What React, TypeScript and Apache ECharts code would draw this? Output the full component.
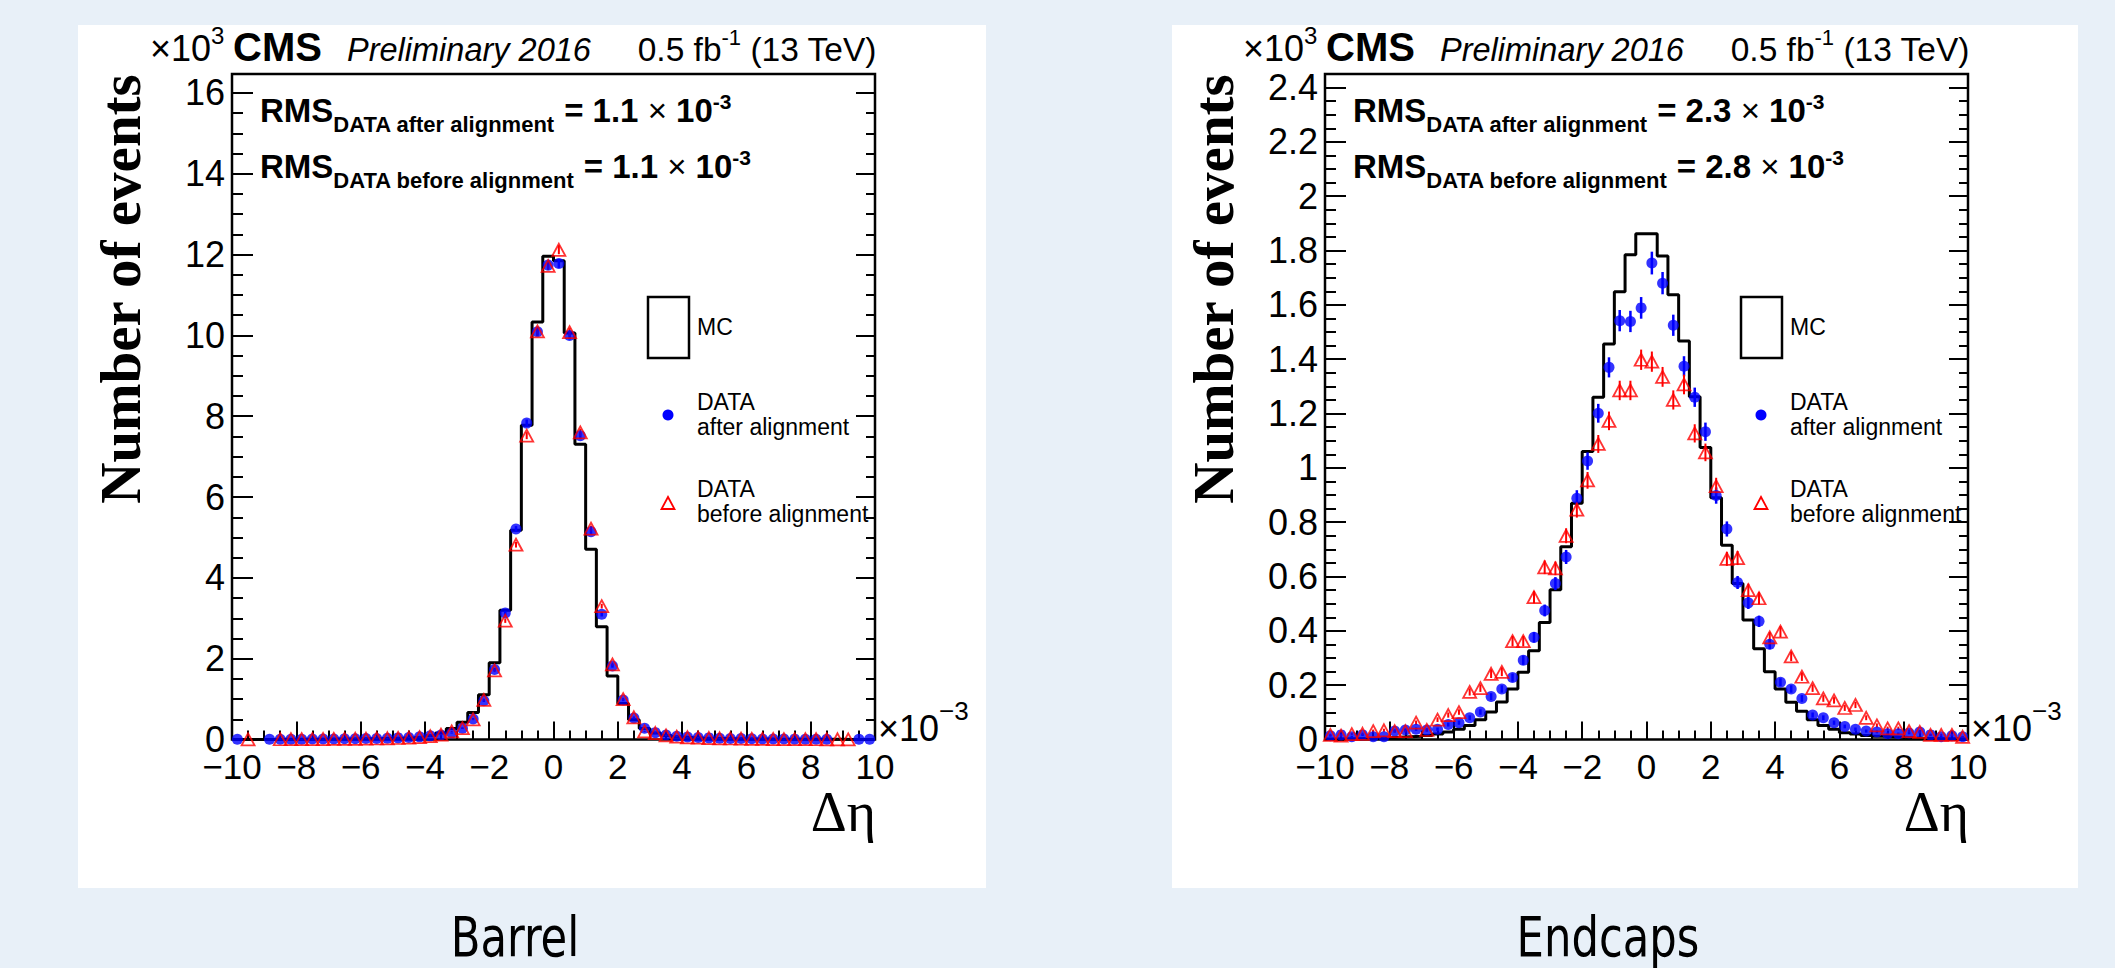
import React, { useEffect, useRef } from 'react';
import * as echarts from 'echarts';

// ---------------- data (values in units of 10^3 events, Δη in units of 10^-3) ----------------
const BIN_LOW = -10;
const BIN_WIDTH = 1 / 3; // 60 bins from -10 to 10
const EVENTS_SCALE = 1000; // y axis is ×10^3

const barrelMC = [
  0, 0, 0, 0, 0.004, 0.005, 0.006, 0.008, 0.01, 0.012,
  0.014, 0.017, 0.02, 0.024, 0.03, 0.036, 0.045, 0.06, 0.09, 0.16,
  0.27, 0.43, 0.67, 1.11, 1.9, 3.2, 5.18, 7.78, 10.33, 11.96,
  11.85, 10.06, 7.31, 4.71, 2.79, 1.57, 0.89, 0.49, 0.27, 0.16,
  0.1, 0.065, 0.048, 0.038, 0.03, 0.025, 0.02, 0.017, 0.014, 0.012,
  0.01, 0.009, 0.008, 0.007, 0.006, 0.005, 0.004, 0.003, 0.002, 0.002,
];
const barrelAfter = [
  0.005, null, null, 0.005, 0.006, 0.007, 0.008, 0.01, 0.012, 0.014,
  0.016, 0.02, 0.022, 0.026, 0.032, 0.04, 0.05, 0.065, 0.09, 0.11,
  0.16, 0.28, 0.51, 0.96, 1.73, 3.13, 5.21, 7.83, 10.09, 11.74,
  11.78, 10.0, 7.52, 5.14, 3.1, 1.82, 0.98, 0.53, 0.28, 0.17,
  0.11, 0.08, 0.06, 0.05, 0.04, 0.032, 0.026, 0.022, 0.018, 0.015,
  0.012, 0.01, 0.009, 0.008, 0.007, 0.006, null, null, 0.004, 0.004,
];
const barrelBefore = [
  null, 0.005, null, null, 0.006, 0.007, 0.008, 0.009, 0.011, 0.013,
  0.015, 0.018, 0.021, 0.025, 0.03, 0.037, 0.047, 0.06, 0.085, 0.12,
  0.2, 0.28, 0.5, 0.98, 1.71, 2.94, 4.82, 7.52, 10.1, 11.72,
  12.12, 10.08, 7.6, 5.22, 3.3, 1.86, 1.0, 0.55, 0.2, 0.16,
  0.1, 0.07, 0.055, 0.045, 0.036, 0.03, 0.025, 0.02, 0.017, 0.014,
  0.012, 0.01, 0.008, 0.007, 0.006, 0.005, 0.005, 0.004, null, null,
];

const endcapMC = [
  0.002, 0.003, 0.003, 0.004, 0.005, 0.006, 0.008, 0.01, 0.012, 0.015,
  0.02, 0.028, 0.038, 0.052, 0.073, 0.101, 0.138, 0.186, 0.248, 0.327,
  0.431, 0.551, 0.71, 0.87, 1.06, 1.26, 1.456, 1.648, 1.785, 1.862,
  1.862, 1.78, 1.637, 1.467, 1.262, 1.075, 0.89, 0.715, 0.574, 0.44,
  0.334, 0.249, 0.186, 0.137, 0.104, 0.073, 0.052, 0.038, 0.025, 0.02,
  0.015, 0.012, 0.01, 0.008, 0.006, 0.005, 0.004, 0.003, 0.003, 0.002,
];
const endcapAfter = [
  0.014, 0.017, 0.01, 0.017, 0.01, 0.01, 0.031, 0.035, 0.038, 0.035,
  0.038, 0.055, 0.062, 0.08, 0.101, 0.158, 0.186, 0.228, 0.292, 0.376,
  0.475, 0.574, 0.672, 0.888, 1.025, 1.201, 1.37, 1.542, 1.539, 1.589,
  1.754, 1.68, 1.525, 1.374, 1.26, 1.133, 0.898, 0.775, 0.578, 0.503,
  0.435, 0.351, 0.211, 0.186, 0.151, 0.09, 0.08, 0.062, 0.048, 0.038,
  0.031, 0.028, 0.021, 0.021, 0.024, 0.028, 0.017, 0.01, 0.014, 0.01,
];
const endcapBefore = [
  0.017, 0.014, 0.02, 0.021, 0.031, 0.034, 0.031, 0.031, 0.062, 0.035,
  0.073, 0.09, 0.101, 0.175, 0.189, 0.242, 0.249, 0.362, 0.362, 0.524,
  0.634, 0.63, 0.75, 0.846, 0.954, 1.088, 1.173, 1.285, 1.285, 1.398,
  1.391, 1.335, 1.25, 1.307, 1.127, 1.057, 0.933, 0.665, 0.668, 0.55,
  0.52, 0.376, 0.397, 0.306, 0.231, 0.189, 0.151, 0.144, 0.116, 0.127,
  0.08, 0.052, 0.041, 0.041, 0.031, 0.028, 0.017, 0.017, 0.017, 0.01,
];

const panelNames = ['Barrel', 'Endcaps'];
const rmsAfterValues = ['1.1', '2.3'];
const rmsBeforeValues = ['1.1', '2.8'];
const yMaxValues = [16.47, 2.45];
const yMajorSteps = [2, 0.2];
const yMinorSteps = [0.5, 0.05];
const xRange = [-10, 10];
const xMajorStep = 2;
const xMinorStep = 0.5;

// ---------------- styling helpers ----------------
const SANS = '"Liberation Sans", Arial, Helvetica, sans-serif';
const SERIF = '"Liberation Serif", "Times New Roman", serif';
const NARROW = '"Liberation Sans Narrow", "DejaVu Sans Condensed", "Liberation Sans", sans-serif';
const BLUE = '#0000ff';
const RED = '#ff0000';

let measureCtx: CanvasRenderingContext2D | null = null;
function textWidth(t: string, size: number, bold: boolean, italic: boolean, family: string) {
  if (!measureCtx) measureCtx = document.createElement('canvas').getContext('2d');
  measureCtx!.font = `${italic ? 'italic ' : ''}${bold ? 'bold ' : ''}${size}px ${family}`;
  return measureCtx!.measureText(t).width;
}

type Piece = { t: string; size: number; bold?: boolean; italic?: boolean; dy?: number; family?: string };

function textAt(x: number, cy: number, t: string, size: number, opts: any = {}) {
  return {
    type: 'text',
    x,
    y: cy,
    z: 100,
    silent: true,
    rotation: opts.rotation || 0,
    scaleX: opts.scaleX || 1,
    style: {
      text: t,
      fill: '#000',
      fontSize: size,
      fontFamily: opts.family || SANS,
      fontWeight: opts.bold ? 'bold' : 'normal',
      fontStyle: opts.italic ? 'italic' : 'normal',
      align: opts.align || 'left',
      verticalAlign: 'middle',
      textAlign: opts.align || 'left',
      textVerticalAlign: 'middle',
    },
  };
}

function run(x: number, baseline: number, pieces: Piece[], align: 'left' | 'right' = 'left') {
  const ws = pieces.map((p) => textWidth(p.t, p.size, !!p.bold, !!p.italic, p.family || SANS));
  const total = ws.reduce((a, b) => a + b, 0);
  let cx = align === 'left' ? x : x - total;
  const out: any[] = [];
  pieces.forEach((p, i) => {
    const b = baseline + (p.dy || 0);
    out.push(textAt(cx, b - 0.35 * p.size, p.t, p.size, { bold: p.bold, italic: p.italic, family: p.family }));
    cx += ws[i];
  });
  return out;
}

function binCenter(i: number) {
  return BIN_LOW + (i + 0.5) * BIN_WIDTH;
}
function stepData(vals: number[]) {
  const pts: number[][] = [];
  vals.forEach((v, i) => {
    const lo = BIN_LOW + i * BIN_WIDTH;
    pts.push([lo, v], [lo + BIN_WIDTH, v]);
  });
  return pts;
}
function pointData(vals: (number | null)[]) {
  const pts: number[][] = [];
  vals.forEach((v, i) => {
    if (v != null) pts.push([binCenter(i), v]);
  });
  return pts;
}
function errData(vals: (number | null)[]) {
  return pointData(vals).map(([x, v]) => {
    const e = Math.sqrt(v * EVENTS_SCALE) / EVENTS_SCALE;
    return [x, v - e, v + e];
  });
}
function errSeries(vals: (number | null)[], color: string, width: number, xi: number, yi: number) {
  return {
    type: 'custom',
    xAxisIndex: xi,
    yAxisIndex: yi,
    silent: true,
    z: 3,
    encode: { x: 0, y: [1, 2] },
    data: errData(vals),
    renderItem: (params: any, api: any) => {
      const x = api.value(0);
      const p1 = api.coord([x, api.value(1)]);
      const p2 = api.coord([x, api.value(2)]);
      return {
        type: 'line',
        shape: { x1: p1[0], y1: p1[1], x2: p2[0], y2: p2[1] },
        style: { stroke: color, lineWidth: width },
      };
    },
  };
}

const GRID_TOP = 74;
const GRID_BOTTOM_Y = 739.5;
const PAGE_W = 2115;
const PAGE_H = 968;
const frames = [
  { left: 232, right: 875, box: [78, 25, 986, 888], dx: 0 },
  { left: 1325, right: 1968, box: [1172, 25, 2078, 888], dx: 1093 },
];

function buildOption() {
  const datasets = [
    { mc: barrelMC, after: barrelAfter, before: barrelBefore },
    { mc: endcapMC, after: endcapAfter, before: endcapBefore },
  ];
  const grid: any[] = [];
  const xAxis: any[] = [];
  const yAxis: any[] = [];
  const series: any[] = [];
  const graphic: any[] = [];

  frames.forEach((f, k) => {
    grid.push({
      left: f.left,
      right: PAGE_W - f.right,
      top: GRID_TOP,
      bottom: PAGE_H - GRID_BOTTOM_Y,
      show: true,
      borderColor: '#000',
      borderWidth: 2.5,
      backgroundColor: 'rgba(0,0,0,0)',
    });
    const xBase = {
      gridIndex: k,
      type: 'value',
      min: xRange[0],
      max: xRange[1],
      position: 'bottom',
      axisLine: { show: false, onZero: false },
      splitLine: { show: false },
    };
    xAxis.push({
      ...xBase,
      interval: xMajorStep,
      axisTick: { inside: true, length: 18, lineStyle: { color: '#000', width: 2 } },
      axisLabel: {
        margin: 15,
        fontSize: 35,
        lineHeight: 24,
        fontFamily: SANS,
        color: '#000',
        formatter: (v: number) => (v < 0 ? '\u2212' + Math.abs(v) : String(v)),
      },
    });
    xAxis.push({
      ...xBase,
      interval: xMinorStep,
      axisTick: { inside: true, length: 9, lineStyle: { color: '#000', width: 2 } },
      axisLabel: { show: false },
    });
    const yBase = {
      gridIndex: k,
      type: 'value',
      min: 0,
      max: yMaxValues[k],
      axisLine: { show: false, onZero: false },
      splitLine: { show: false },
    };
    yAxis.push({
      ...yBase,
      position: 'left',
      interval: yMajorSteps[k],
      axisTick: { inside: true, length: 21, lineStyle: { color: '#000', width: 2 } },
      axisLabel: {
        margin: 7,
        fontSize: 36,
        lineHeight: 24,
        fontFamily: SANS,
        color: '#000',
        showMaxLabel: false,
        formatter: (v: number) => String(+v.toFixed(2)),
      },
    });
    yAxis.push({
      ...yBase,
      position: 'left',
      interval: yMinorSteps[k],
      axisTick: { inside: true, length: 11, lineStyle: { color: '#000', width: 2 } },
      axisLabel: { show: false },
    });
    yAxis.push({
      ...yBase,
      position: 'right',
      interval: yMajorSteps[k],
      axisTick: { inside: true, length: 19, lineStyle: { color: '#000', width: 2 } },
      axisLabel: { show: false },
    });
    yAxis.push({
      ...yBase,
      position: 'right',
      interval: yMinorSteps[k],
      axisTick: { inside: true, length: 9, lineStyle: { color: '#000', width: 2 } },
      axisLabel: { show: false },
    });

    const xi = 2 * k;
    const yi = 4 * k;
    const d = datasets[k];
    series.push({
      type: 'line',
      xAxisIndex: xi,
      yAxisIndex: yi,
      data: stepData(d.mc),
      symbol: 'none',
      silent: true,
      z: 2,
      lineStyle: { color: '#000', width: 3 },
    });
    series.push(errSeries(d.after, BLUE, 2.5, xi, yi));
    series.push({
      type: 'scatter',
      xAxisIndex: xi,
      yAxisIndex: yi,
      data: pointData(d.after),
      symbol: 'circle',
      symbolSize: 11,
      silent: true,
      z: 4,
      itemStyle: { color: BLUE },
    });
    series.push(errSeries(d.before, RED, 2, xi, yi));
    series.push({
      type: 'scatter',
      xAxisIndex: xi,
      yAxisIndex: yi,
      data: pointData(d.before),
      symbol: 'triangle',
      symbolSize: [13, 12],
      silent: true,
      z: 5,
      itemStyle: { color: 'rgba(255,255,255,0)', borderColor: RED, borderWidth: 1.8 },
    });

    // ---- decorations ----
    const dx = f.dx;
    const [bx0, by0, bx1, by1] = f.box;
    graphic.push({
      type: 'rect',
      z: -10,
      silent: true,
      shape: { x: bx0, y: by0, width: bx1 - bx0, height: by1 - by0 },
      style: { fill: '#ffffff' },
    });
    // header
    graphic.push(...run(150 + dx, 61, [{ t: '×10', size: 36 }, { t: '3', size: 24, dy: -17 }]));
    graphic.push(...run(233 + dx, 61, [{ t: 'CMS', size: 40, bold: true }]));
    graphic.push(...run(347 + dx, 61, [{ t: 'Preliminary 2016', size: 32.5, italic: true }]));
    graphic.push(
      ...run(
        f.right + 2,
        61,
        [{ t: '0.5 fb', size: 33.5 }, { t: '-1', size: 22, dy: -16 }, { t: ' (13 TeV)', size: 33.5 }],
        'right'
      )
    );
    // RMS lines
    const rmsLine = (baseline: number, sub: string, val: string) =>
      run(260 + dx, baseline, [
        { t: 'RMS', size: 33, bold: true },
        { t: sub, size: 22, bold: true, dy: 10 },
        { t: ' = ' + val + ' ', size: 33, bold: true },
        { t: '×', size: 33 },
        { t: ' 10', size: 33, bold: true },
        { t: '-3', size: 21, bold: true, dy: -13 },
      ]);
    graphic.push(...rmsLine(122, 'DATA after alignment', rmsAfterValues[k]));
    graphic.push(...rmsLine(178, 'DATA before alignment', rmsBeforeValues[k]));
    // axis titles
    graphic.push(textAt(120 + dx, 289, 'Number of events', 57, { bold: true, family: SERIF, align: 'center', rotation: Math.PI / 2 }));
    graphic.push(...run(f.right + 1, 832, [{ t: 'Δη', size: 56, family: SERIF }], 'right'));
    graphic.push(...run(878 + dx, 741, [{ t: '×10', size: 36 }, { t: '\u22123', size: 26, dy: -21 }]));
    // legend
    graphic.push({
      type: 'rect',
      z: 100,
      silent: true,
      shape: { x: 648 + dx, y: 297, width: 41, height: 61 },
      style: { fill: 'none', stroke: '#000', lineWidth: 2.5 },
    });
    graphic.push(textAt(697 + dx, 327, 'MC', 23));
    graphic.push({
      type: 'circle',
      z: 100,
      silent: true,
      shape: { cx: 668 + dx, cy: 415, r: 5.5 },
      style: { fill: BLUE },
    });
    graphic.push(textAt(697 + dx, 402, 'DATA', 23));
    graphic.push(textAt(697 + dx, 427, 'after alignment', 23));
    graphic.push({
      type: 'polygon',
      z: 100,
      silent: true,
      shape: { points: [[661.5 + dx, 509], [674.5 + dx, 509], [668 + dx, 497]] },
      style: { fill: 'none', stroke: RED, lineWidth: 1.8 },
    });
    graphic.push(textAt(697 + dx, 489, 'DATA', 23));
    graphic.push(textAt(697 + dx, 514, 'before alignment', 23));
    // panel caption (narrow face)
    graphic.push(
      textAt((bx0 + bx1) / 2 - 17, 937, panelNames[k], 56, { family: NARROW, align: 'center', scaleX: 0.86 })
    );
  });

  return {
    animation: false,
    backgroundColor: '#e8f0f8',
    grid,
    xAxis,
    yAxis,
    series,
    graphic: { elements: graphic },
  };
}

export default function App() {
  const ref = useRef<HTMLDivElement>(null);
  useEffect(() => {
    if (!ref.current) return;
    const chart = echarts.init(ref.current, undefined, { renderer: 'svg' });
    chart.setOption(buildOption() as any);
    return () => chart.dispose();
  }, []);
  return (
    <div
      ref={ref}
      style={{ position: 'absolute', left: 0, top: 0, width: PAGE_W, height: PAGE_H }}
    />
  );
}
